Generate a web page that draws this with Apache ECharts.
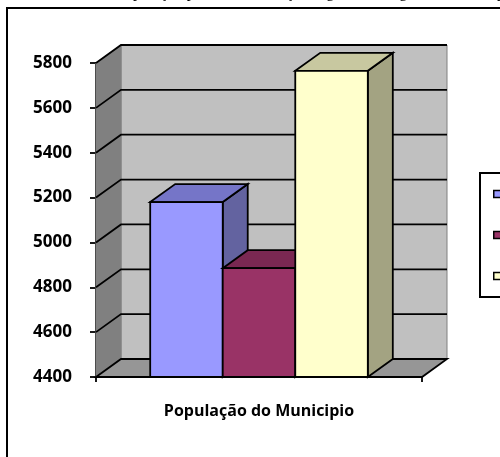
<!DOCTYPE html>
<html><head><meta charset="utf-8">
<script src="https://cdn.jsdelivr.net/npm/echarts@6/dist/echarts.min.js"></script>
<style>html,body{margin:0;padding:0;background:#fff}#c{width:500px;height:457px}</style>
</head><body><div id="c"></div>
<script>
// ---- data ----
const categories = ['População do Municipio'];
const seriesNames = ['Homens', 'Mulheres', 'Total'];
const seriesValues = [[5180], [4885], [5765]];
const yTicks = [4400, 4600, 4800, 5000, 5200, 5400, 5600, 5800];
const titleText = 'Gráfico 1 - População por sexo e situação segundo a Região do Município';

// ---- style ----
const DX = 25, DY = -18;
const faces = [
  {front: '#9999ff', top: '#7575c8', side: '#6363a0'},
  {front: '#993366', top: '#7a2852', side: '#7a2852'},
  {front: '#ffffcc', top: '#c8c8a0', side: '#a3a382'}
];
const EDGE = {stroke: '#000', lineWidth: 1.8};

const chart = echarts.init(document.getElementById('c'), null, {renderer: 'canvas'});

function wallsRender(params, api) {
  const cs = params.coordSys;
  const xl = cs.x, xr = cs.x + cs.width;
  const yb = api.coord([0, yTicks[0]])[1];
  const yt = api.coord([0, yTicks[yTicks.length - 1]])[1];
  const ch = [];
  ch.push({type: 'polygon', shape: {points: [[xl + DX, yt + DY], [xr + DX, yt + DY], [xr + DX, yb + DY], [xl + DX, yb + DY]]},
    style: {fill: '#c0c0c0', stroke: '#808080', lineWidth: 1}});
  ch.push({type: 'polygon', shape: {points: [[xl, yt], [xl + DX, yt + DY], [xl + DX, yb + DY], [xl, yb]]},
    style: {fill: '#808080', stroke: '#808080', lineWidth: 1}});
  ch.push({type: 'polygon', shape: {points: [[xl, yb], [xl + DX, yb + DY], [xr + DX, yb + DY], [xr, yb]]},
    style: {fill: '#969696', stroke: '#000', lineWidth: 1.8}});
  yTicks.forEach(function (t, i) {
    if (i === 0) return;
    const y = api.coord([0, t])[1];
    ch.push({type: 'polyline', shape: {points: [[xl, y], [xl + DX, y + DY], [xr + DX, y + DY]]},
      style: {stroke: '#000', lineWidth: 1.8, fill: null}});
  });
  return {type: 'group', children: ch};
}

function barRender(idx) {
  return function (params, api) {
    const c = api.value(0), v = api.value(1);
    const base = api.coord([c, yTicks[0]]);
    const top = api.coord([c, v]);
    const band = api.size([1, 0])[0];
    const w = band * 0.2225;
    const x0 = base[0] - 1.5 * w + idx * w, x1 = x0 + w;
    const yb = base[1], yt = top[1];
    const f = faces[idx];
    return {type: 'group', children: [
      {type: 'polygon', shape: {points: [[x1, yt], [x1 + DX, yt + DY], [x1 + DX, yb + DY], [x1, yb]]},
        style: Object.assign({fill: f.side}, EDGE)},
      {type: 'polygon', shape: {points: [[x0, yt], [x0 + DX, yt + DY], [x1 + DX, yt + DY], [x1, yt]]},
        style: Object.assign({fill: f.top}, EDGE)},
      {type: 'rect', shape: {x: x0, y: yt, width: w, height: yb - yt},
        style: Object.assign({fill: f.front}, EDGE)}
    ]};
  };
}

const series = [{
  type: 'custom', name: '_walls', silent: true, clip: false,
  renderItem: wallsRender, data: [[0, yTicks[0]]], z: 1
}];
seriesNames.forEach(function (n, i) {
  series.push({
    type: 'custom', name: n, clip: false, z: 2 + i,
    itemStyle: {color: faces[i].front, borderColor: '#000', borderWidth: 1.5},
    renderItem: barRender(i),
    data: categories.map(function (cat, k) { return [k, seriesValues[i][k]]; })
  });
});

chart.setOption({
  animation: false,
  backgroundColor: '#fff',
  textStyle: {fontFamily: 'Open Sans'},
  graphic: [
    {type: 'rect', shape: {x: 7, y: 8, width: 520, height: 480}, style: {fill: null, stroke: '#000', lineWidth: 2}, z: 0},
    {type: 'text', x: 42, y: 1, style: {text: titleText, font: '16px "Liberation Serif"', fill: '#000', verticalAlign: 'bottom'}}
  ],
  legend: {
    data: seriesNames, orient: 'vertical', left: 480, top: 173,
    padding: [15, 6, 15, 13], itemGap: 29, itemWidth: 7, itemHeight: 7,
    borderColor: '#000', borderWidth: 2, icon: 'rect',
    itemStyle: {borderColor: '#000', borderWidth: 1.5},
    textStyle: {fontSize: 12, fontWeight: 'bold', color: '#000', fontFamily: 'Open Sans'}
  },
  grid: {left: 96, top: 63, right: 78, bottom: 80},
  xAxis: {
    type: 'category', data: categories,
    axisLine: {lineStyle: {color: '#000', width: 1.8}},
    axisTick: {show: true, length: 5, lineStyle: {color: '#000', width: 1.8}},
    axisLabel: {margin: 26, color: '#000', fontSize: 16, fontWeight: 'bold', fontFamily: 'Open Sans'},
    splitLine: {show: false}
  },
  yAxis: {
    type: 'value', min: 4400, max: 5800, interval: 200,
    axisLine: {show: true, lineStyle: {color: '#000', width: 1.8}},
    axisTick: {show: true, length: 6, lineStyle: {color: '#000', width: 1.8}},
    axisLabel: {margin: 24, color: '#000', fontSize: 17, fontWeight: 'bold', fontFamily: 'Open Sans',
      formatter: function (v) { return String(v); }},
    splitLine: {show: false}
  },
  series: series
});
</script></body></html>
